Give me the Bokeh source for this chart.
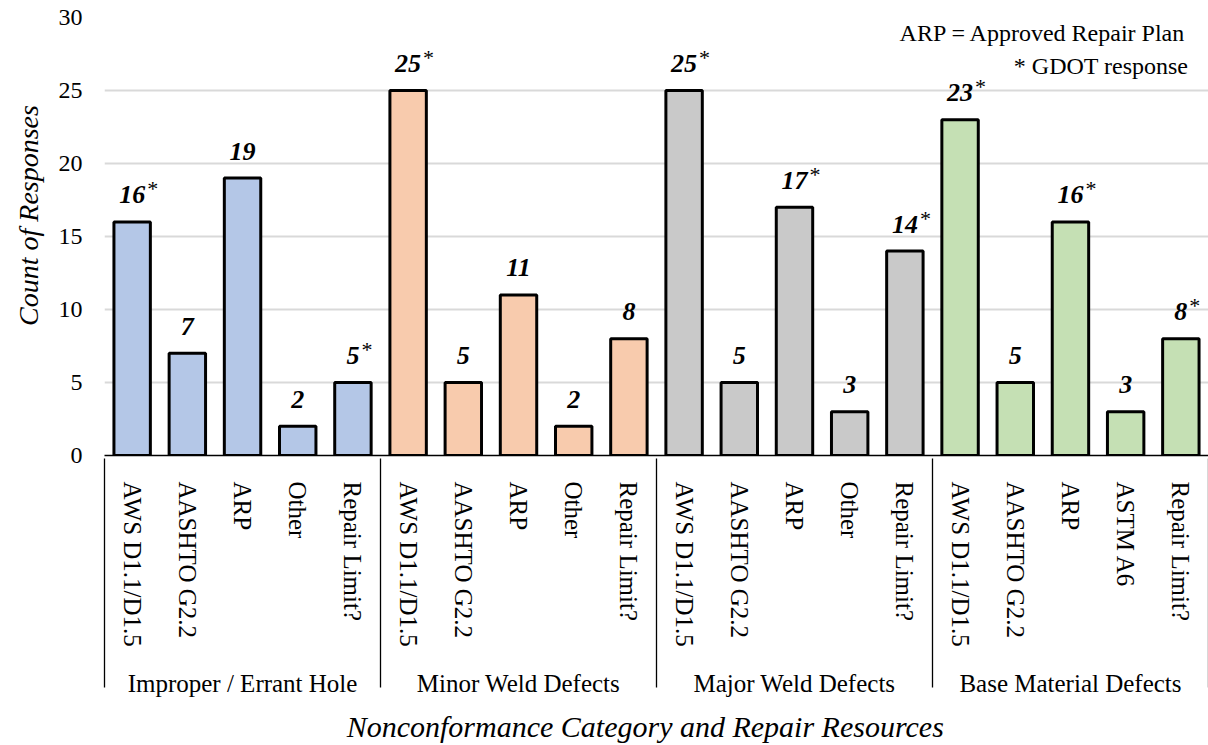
from bokeh.plotting import figure
from bokeh.models import FactorRange, ColumnDataSource, FixedTicker, Range1d
from bokeh.embed import file_html
from bokeh.resources import INLINE
from bokeh.core.properties import value

# ---------------- data ----------------
groups = ["Improper / Errant Hole", "Minor Weld Defects", "Major Weld Defects", "Base Material Defects"]
resources = [
    ["AWS D1.1/D1.5", "AASHTO G2.2", "ARP", "Other", "Repair Limit?"],
    ["AWS D1.1/D1.5", "AASHTO G2.2", "ARP", "Other", "Repair Limit?"],
    ["AWS D1.1/D1.5", "AASHTO G2.2", "ARP", "Other", "Repair Limit?"],
    ["AWS D1.1/D1.5", "AASHTO G2.2", "ARP", "ASTM A6", "Repair Limit?"],
]
counts = [
    [16, 7, 19, 2, 5],
    [25, 5, 11, 2, 8],
    [25, 5, 17, 3, 14],
    [23, 5, 16, 3, 8],
]
gdot_response = [
    [True, False, False, False, True],
    [True, False, False, False, False],
    [True, False, True, False, True],
    [True, False, True, False, True],
]
group_colors = ["#B4C7E7", "#F8CBAD", "#C9C9C9", "#C5E0B4"]
y_ticks = [0, 5, 10, 15, 20, 25, 30]
notes = ["ARP = Approved Repair Plan", "* GDOT response"]

SERIF = "Liberation Serif"
NBSP = "\u00a0"

# ---------------- table ----------------
factors, tops, fills, labels = [], [], [], []
star_x, star_top, star_dx = [], [], []
for g, res, cnt, gd, col in zip(groups, resources, counts, gdot_response, group_colors):
    for r, c, s in zip(res, cnt, gd):
        factors.append((g, r))
        tops.append(c)
        fills.append(col)
        labels.append(str(c))
        if s:
            star_x.append((g, r))
            star_top.append(c)
            star_dx.append(6.5 * len(str(c)) + 2)

src = ColumnDataSource(dict(x=factors, top=tops, fill=fills, label=labels))
star_src = ColumnDataSource(dict(x=star_x, top=star_top, dx=star_dx,
                                 star=["*"] * len(star_x)))

# hidden one-slot groups at both ends (scrolled out of view by a negative padding)
# so that the axis also draws a group separator at the left edge
range_factors = [(" ", " ")] + factors + [("  ", "  ")]
x_range = FactorRange(factors=range_factors, factor_padding=0, group_padding=0,
                      range_padding=-0.999, range_padding_units="absolute")
x_end = len(factors) + 1  # synthetic coordinate of the right end of the last group

p = figure(
    x_range=x_range,
    y_range=Range1d(0, 30),
    width=1208, height=745,
    output_backend="svg", toolbar_location=None,
    min_border_left=104, min_border_right=0, min_border_top=17, min_border_bottom=286,
)
p.outline_line_color = None
p.background_fill_color = "white"
p.border_fill_color = "white"

p.vbar(x="x", top="top", width=0.66, source=src, fill_color="fill",
       line_color="black", line_width=3)

p.text(x="x", y="top", text="label", source=src,
       text_font=value(SERIF), text_font_style="bold italic", text_font_size="26px",
       text_align="center", text_baseline="alphabetic", y_offset=-27, text_color="black")
p.text(x="x", y="top", text="star", source=star_src, x_offset="dx",
       text_font=value(SERIF), text_font_size="22px",
       text_align="left", text_baseline="alphabetic", y_offset=-33, text_color="black")

# notes (top right)
p.text(x=[x_end, x_end], y=[30, 30], text=notes, x_offset=[-22, -20], y_offset=[15, 48],
       text_font=value(SERIF), text_font_size="24px", text_align="right",
       text_baseline="alphabetic", text_color="black")

# y axis
ya = p.yaxis[0]
ya.ticker = FixedTicker(ticks=y_ticks)
ya.axis_line_color = None
ya.major_tick_line_color = None
ya.major_tick_out = 0
ya.major_tick_in = 0
ya.minor_tick_line_color = None
ya.major_label_text_font = SERIF
ya.major_label_text_font_size = "24px"
ya.major_label_text_color = "black"
ya.major_label_standoff = 22
ya.axis_label = NBSP * 6 + "Count of Responses"
ya.axis_label_text_font = SERIF
ya.axis_label_text_font_style = "italic"
ya.axis_label_text_font_size = "28px"
ya.axis_label_text_color = "black"
ya.axis_label_standoff = 12

p.ygrid.ticker = FixedTicker(ticks=y_ticks)
p.ygrid.grid_line_color = "#D9D9D9"
p.ygrid.grid_line_width = 2
p.xgrid.grid_line_color = None

# x axis
xa = p.xaxis[0]
xa.axis_line_color = "black"
xa.axis_line_width = 1.3
xa.major_tick_line_color = None
xa.minor_tick_line_color = None
xa.major_label_orientation = "vertical"
xa.major_label_text_font = SERIF
xa.major_label_text_font_size = "25px"
xa.major_label_text_color = "black"
xa.major_label_standoff = 20
xa.group_text_font = SERIF
xa.group_text_font_size = "25px"
xa.group_text_font_style = "normal"
xa.group_text_color = "black"
xa.separator_line_color = "black"
xa.separator_line_width = 1.3
xa.axis_label = "Nonconformance Category and Repair Resources" + NBSP * 3
xa.axis_label_text_font = SERIF
xa.axis_label_text_font_style = "italic"
xa.axis_label_text_font_size = "30px"
xa.axis_label_text_color = "black"
xa.axis_label_standoff = 10

open("out.html", "w").write(file_html(p, INLINE))
